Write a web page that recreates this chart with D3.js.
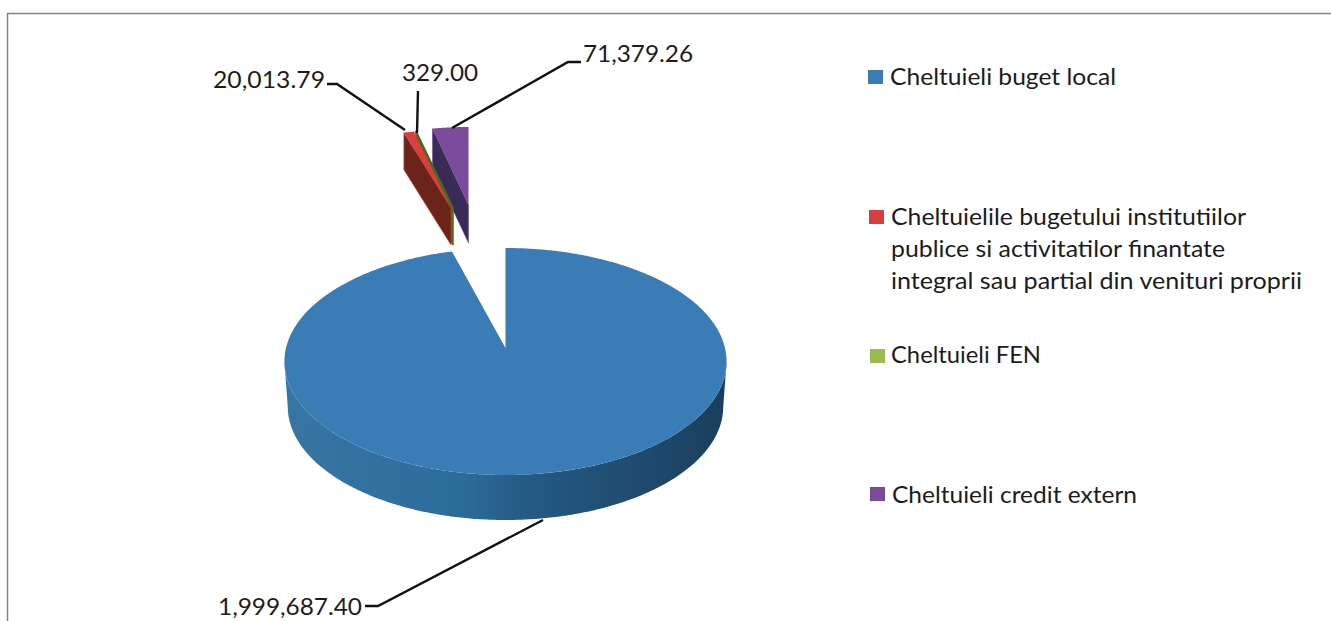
<!DOCTYPE html>
<html>
<head>
<meta charset="utf-8">
<script src="https://cdn.jsdelivr.net/npm/d3@7"></script>
<style>
  html, body { margin: 0; padding: 0; background: #fff; }
  svg { display: block; }
  text { font-family: Lato, "Open Sans", sans-serif; fill: #1c1c1e; }
</style>
</head>
<body>
<svg id="chart" width="1331" height="621"></svg>
<script>
// values
const categories = [
    'Cheltuieli buget local',
    'Cheltuielile bugetului institutiilor publice si activitatilor finantate integral sau partial din venituri proprii',
    'Cheltuieli FEN',
    'Cheltuieli credit extern'
]
const values = [1999687.40, 20013.79, 329.00, 71379.26]
const value_labels = ['1,999,687.40', '20,013.79', '329.00', '71,379.26']
const legend_lines = [
    ['Cheltuieli buget local'],
    ['Cheltuielile bugetului institutiilor', 'publice si activitatilor finantate', 'integral sau partial din venituri proprii'],
    ['Cheltuieli FEN'],
    ['Cheltuieli credit extern']
]
const top_colors = ['#3a7db6', '#d63f3c', '#9bbb4f', '#7a4a9c']
const wall_colors = ['#25618e', '#6a2418', '#4d6a1e', '#3a2a56']

// layout, by slice
const slice_layout = [
    { apex_x: 505.5, apex_y: 348, scale_x: 1, scale_y: 1, depth: 45 },
    { apex_x: 451, apex_y: 208, scale_x: 0.88, scale_y: 0.78, depth: 37 },
    { apex_x: 453, apex_y: 208, scale_x: 0.88, scale_y: 0.78, depth: 37 },
    { apex_x: 468.5, apex_y: 205, scale_x: 0.86, scale_y: 0.78, depth: 38 }
]
const label_layout = [
    { x: 218, y: 615, width: 144, line: [[365, 606], [378, 606], [543, 520]] },
    { x: 213, y: 88, width: 112, line: [[327, 84], [337, 84], [405, 130]] },
    { x: 402, y: 81, width: 76, line: [[418, 91], [417, 133]] },
    { x: 583, y: 62, width: 110, line: [[581, 62], [568, 62], [452, 128]] }
]
const legend_layout = [
    { swatch_x: 868, swatch_y: 70, text_x: 890, baselines: [85], widths: [226] },
    { swatch_x: 869, swatch_y: 210, text_x: 891, baselines: [225, 257, 289], widths: [355, 334, 411] },
    { swatch_x: 870, swatch_y: 349, text_x: 891, baselines: [363], widths: [150] },
    { swatch_x: 870, swatch_y: 487, text_x: 892, baselines: [503], widths: [245] }
]

const radius_x = 219.5,
      radius_b = 111.9, // rim y scale
      tilt = 0.119, // perspective: far side of the disc is shorter than the near side
      lower_rim_scale = 0.985 // bottom of the main slice looks a little narrower

const svg = d3.select('#chart')

const colorScale = d3.scaleOrdinal().domain(categories).range(top_colors)
const wallScale = d3.scaleOrdinal().domain(categories).range(wall_colors)

const pie = d3.pie().sort(null).value((d, i) => values[i])
const arcs = pie(categories)

// a point of the disc rim, angle clockwise from 12 o'clock
function rimPoint(angle, layout) {
    const u = Math.sin(angle),
          v = Math.cos(angle),
          w = 1 + tilt * v
    return [
        layout.apex_x + radius_x * layout.scale_x * u / w,
        layout.apex_y - radius_b * layout.scale_y * v / w
    ]
}

const line = d3.line()

function rimPoints(start, end, layout) {
    const n = Math.max(2, Math.ceil((end - start) / 0.01))
    return d3.range(n + 1).map((i) => rimPoint(start + (end - start) * i / n, layout))
}

const defs = svg.append('defs')
const wall_gradient = defs.append('linearGradient')
                          .attr('id', 'wall-gradient')
                          .attr('x1', 0).attr('x2', 1).attr('y1', 0).attr('y2', 0)
wall_gradient.selectAll('stop')
             .data([[0, '#3775a5'], [0.4, '#2c6c9a'], [0.55, '#245a84'], [0.8, '#1f4b6e'], [1, '#1a3e5c']])
             .join('stop')
             .attr('offset', (d) => d[0])
             .attr('stop-color', (d) => d[1])

// chart frame, only top and left show in the scan
svg.append('path')
   .attr('d', line([[7.5, 621], [7.5, 13.5], [1331, 13.5]]))
   .attr('fill', 'none')
   .attr('stroke', '#85857c')
   .attr('stroke-width', 1.5)

// draw order: far exploded slices first, green under red
const draw_order = [0, 3, 2, 1]
const pie_group = svg.append('g').attr('class', 'pie')

draw_order.forEach((idx) => {
    const d = arcs[idx],
          layout = slice_layout[idx],
          apex = [layout.apex_x, layout.apex_y],
          g = pie_group.append('g').attr('class', `slice-${idx}`)

    if (idx === 0) {
        // outer wall, near half of the rim between the silhouette points
        const silhouette = Math.acos(-tilt)
        const rim = rimPoints(silhouette, 2 * Math.PI - silhouette, layout)
        const lower = rim.map((p) => [
            layout.apex_x + (p[0] - layout.apex_x) * lower_rim_scale,
            p[1] + layout.depth
        ]).reverse()
        g.append('path')
         .attr('d', line(rim.concat(lower)) + 'Z')
         .attr('fill', 'url(#wall-gradient)')
    } else {
        // exploded slices show the wall of their start edge
        const edge = rimPoint(d.startAngle, layout)
        g.append('path')
         .attr('d', line([edge, apex, [apex[0], apex[1] + layout.depth], [edge[0], edge[1] + layout.depth]]) + 'Z')
         .attr('fill', wallScale(categories[idx]))
         .attr('stroke', idx === 2 ? wall_colors[2] : top_colors[idx])
         .attr('stroke-width', idx === 2 ? 1.5 : 0.6)
    }

    g.append('path')
     .attr('d', line([apex].concat(rimPoints(d.startAngle, d.endAngle, layout))) + 'Z')
     .attr('fill', idx === 2 ? wall_colors[2] : colorScale(categories[idx]))
     .attr('stroke', idx === 2 ? wall_colors[2] : 'none')
     .attr('stroke-width', 1.5)
})

// leader lines and value labels
const label_group = svg.append('g').attr('class', 'labels')
label_group.selectAll('path')
           .data(label_layout)
           .join('path')
           .attr('d', (d) => line(d.line))
           .attr('fill', 'none')
           .attr('stroke', '#111')
           .attr('stroke-width', 2.4)
label_group.selectAll('text')
           .data(value_labels)
           .join('text')
           .attr('x', (d, i) => label_layout[i].x)
           .attr('y', (d, i) => label_layout[i].y)
           .attr('font-size', 24)
           .attr('textLength', (d, i) => label_layout[i].width)
           .attr('lengthAdjust', 'spacingAndGlyphs')
           .text((d) => d)

// legend
const legend = svg.append('g').attr('class', 'legend')
                  .selectAll('g')
                  .data(categories)
                  .join('g')
legend.append('rect')
      .attr('x', (d, i) => legend_layout[i].swatch_x)
      .attr('y', (d, i) => legend_layout[i].swatch_y)
      .attr('width', 15)
      .attr('height', 14)
      .attr('fill', (d) => colorScale(d))
legend.each(function (d, i) {
    d3.select(this).selectAll('text')
      .data(legend_lines[i])
      .join('text')
      .attr('x', legend_layout[i].text_x)
      .attr('y', (t, j) => legend_layout[i].baselines[j])
      .attr('font-size', 23)
      .attr('textLength', (t, j) => legend_layout[i].widths[j])
      .attr('lengthAdjust', 'spacingAndGlyphs')
      .text((t) => t)
})
</script>
</body>
</html>
